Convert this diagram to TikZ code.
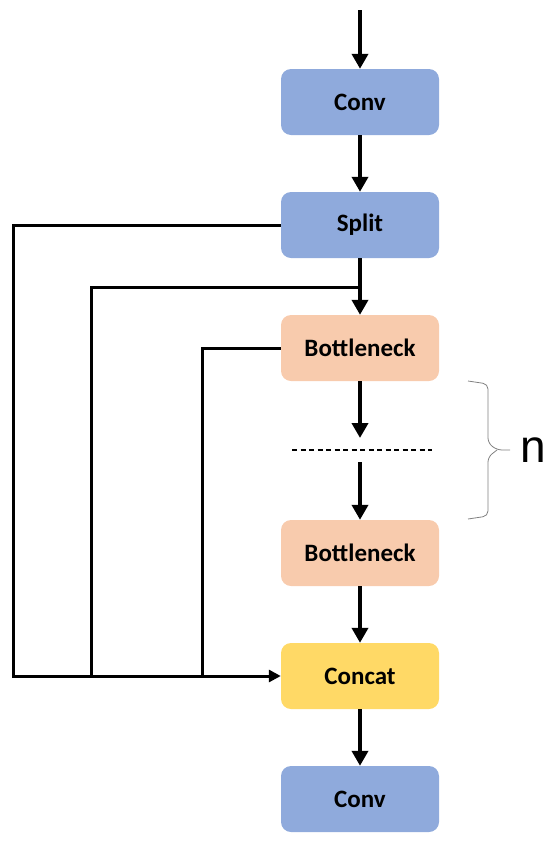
\documentclass[tikz,border=0pt]{standalone}
\usepackage{fontspec}
\setmainfont{Carlito}
\newfontfamily\bracefont{Liberation Sans}
\usetikzlibrary{arrows.meta,positioning,calc}
\definecolor{ink}    {HTML}{000000}
\definecolor{convbg} {HTML}{8FAADC}
\definecolor{bottbg} {HTML}{F8CBAD}
\definecolor{catbg}  {HTML}{FFD966}
\definecolor{muted}  {HTML}{808080}
\tikzset{
  blocknode/.style={
    rectangle, rounded corners=10pt,
    draw=none, fill=convbg,
    text=ink, font=\fontsize{25}{28}\selectfont\bfseries, align=center,
    minimum width=158pt, minimum height=66pt, inner sep=0pt
  },
  bottnode/.style={blocknode, fill=bottbg},
  catnode/.style={blocknode, fill=catbg},
  mainarrow/.style={
    -{Triangle[length=15pt, width=16pt]}, line width=4.8pt, draw=ink
  },
  sidearrow/.style={
    -{Triangle[length=12pt, width=12pt]}, line width=3pt, draw=ink
  },
  sideline/.style={line width=3pt, draw=ink},
  bracepath/.style={draw=muted, line width=0.8pt, rounded corners=5pt}
}

\begin{document}
\begin{tikzpicture}[x=1pt, y=-1pt]
  \useasboundingbox (0,0) rectangle (550,844);
  \node[blocknode] (conv1)  at (360,102) {Conv};
  \node[blocknode] (split)  at (360,225) {Split};
  \node[bottnode]  (bott1)  at (360,348) {Bottleneck};
  \node[bottnode]  (bott2)  at (360,553) {Bottleneck};
  \node[catnode]   (concat) at (360,676) {Concat};
  \node[blocknode] (conv2)  at (360,799) {Conv};
  \coordinate (in)    at (360,10);
  \coordinate (tap)   at (360,287);
  \coordinate (gapa)  at (360,438);
  \coordinate (gapb)  at (360,462);
  \coordinate (dotl)  at (292,450);
  \coordinate (dotr)  at (432,450);
  % main path
  \draw[mainarrow] (in) -- (conv1);
  \draw[mainarrow] (conv1) -- (split);
  \draw[mainarrow] (split) -- (bott1);
  \draw[mainarrow] (bott1) -- (gapa);
  \draw[line width=1.2pt, dash pattern=on 5pt off 3.5pt] (dotl) -- (dotr);
  \draw[mainarrow] (gapb) -- (bott2);
  \draw[mainarrow] (bott2) -- (concat);
  \draw[mainarrow] (concat) -- (conv2);
  % side branches into concat
  \draw[sidearrow] (split.west) -| (13,676) -- (concat.west);
  \draw[sideline] (tap) -| (91,676);
  \draw[sideline] (bott1.west) -| (202,676);
  % repeat brace
  \coordinate (tip) at (510,450);
  \draw[bracepath] (468,381) -- (488,384) -- (488,443) -- (497,450) -- (tip);
  \draw[bracepath] (497,450) -- (488,457) -- (488,516) -- (468,519);
  \node[right=10pt of tip, inner sep=0pt, text=ink,
        font=\bracefont\fontsize{46}{50}\selectfont] (rep) {n};
\end{tikzpicture}
\end{document}
